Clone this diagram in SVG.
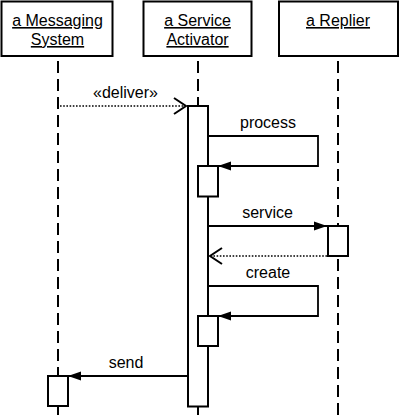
<svg xmlns="http://www.w3.org/2000/svg" width="400" height="420" viewBox="0 0 400 420">
<defs>
<style>
.box{fill:#fff;stroke:#000;stroke-width:2}
.life{stroke:#000;stroke-width:2;stroke-dasharray:12 6;fill:none}
.act{fill:#fff;stroke:#000;stroke-width:2}
.msg{stroke:#000;stroke-width:1.8;fill:none}
.ret{stroke:#000;stroke-width:1.6;fill:none;stroke-dasharray:1.6 1.6}
.t{font-family:"Liberation Sans",Arial,sans-serif;font-size:16px;fill:#000;text-anchor:middle}
.u{text-decoration:underline}
</style>
<marker id="fill" markerUnits="userSpaceOnUse" markerWidth="14" markerHeight="10" refX="13" refY="4.5" orient="auto" overflow="visible">
<path d="M0,0 L13,4.5 L0,9 z" fill="#000"/>
</marker>
<marker id="open" markerUnits="userSpaceOnUse" markerWidth="14" markerHeight="18" refX="12" refY="8" orient="auto" overflow="visible">
<path d="M0,0 L12,8 L0,16" fill="none" stroke="#000" stroke-width="2"/>
</marker>
</defs>
<rect width="400" height="420" fill="#fff"/>
<g id="messaging-system">
<rect class="box" x="1.5" y="1.5" width="111" height="54.5"/>
<text class="t u" x="57.5" y="26">a Messaging</text>
<text class="t u" x="57.5" y="45">System</text>
<line class="life" x1="58" y1="61" x2="58" y2="420"/>
<rect class="act" x="48" y="376" width="20" height="30"/>
</g>
<g id="service-activator">
<rect class="box" x="143.5" y="1.5" width="108" height="54.5"/>
<text class="t u" x="197.5" y="26">a Service</text>
<text class="t u" x="197.5" y="45">Activator</text>
<line class="life" x1="198" y1="61" x2="198" y2="420"/>
<rect class="act" x="188" y="106" width="20" height="300.5"/>
<rect class="act" x="198" y="166" width="20" height="30.5"/>
<rect class="act" x="198" y="316" width="20" height="30"/>
</g>
<g id="replier">
<rect class="box" x="279" y="1.5" width="119" height="54.5"/>
<text class="t u" x="338" y="26">a Replier</text>
<line class="life" x1="338" y1="61" x2="338" y2="420"/>
<rect class="act" x="328" y="226" width="20" height="30"/>
</g>
<g id="connectors">
<line class="ret" x1="60" y1="106" x2="186" y2="106" marker-end="url(#open)"/>
<text class="t" x="125.5" y="98">«deliver»</text>
<path class="msg" d="M208,136 H318 V166 H218" marker-end="url(#fill)"/>
<text class="t" x="268" y="127.5">process</text>
<line class="msg" x1="208" y1="226" x2="327" y2="226" marker-end="url(#fill)"/>
<text class="t" x="267.5" y="217.5">service</text>
<line class="ret" x1="327" y1="256" x2="210" y2="256" marker-end="url(#open)"/>
<path class="msg" d="M208,286 H318 V316 H218" marker-end="url(#fill)"/>
<text class="t" x="268" y="277.5">create</text>
<line class="msg" x1="188" y1="376" x2="68" y2="376" marker-end="url(#fill)"/>
<text class="t" x="126" y="368">send</text>
</g>
</svg>
